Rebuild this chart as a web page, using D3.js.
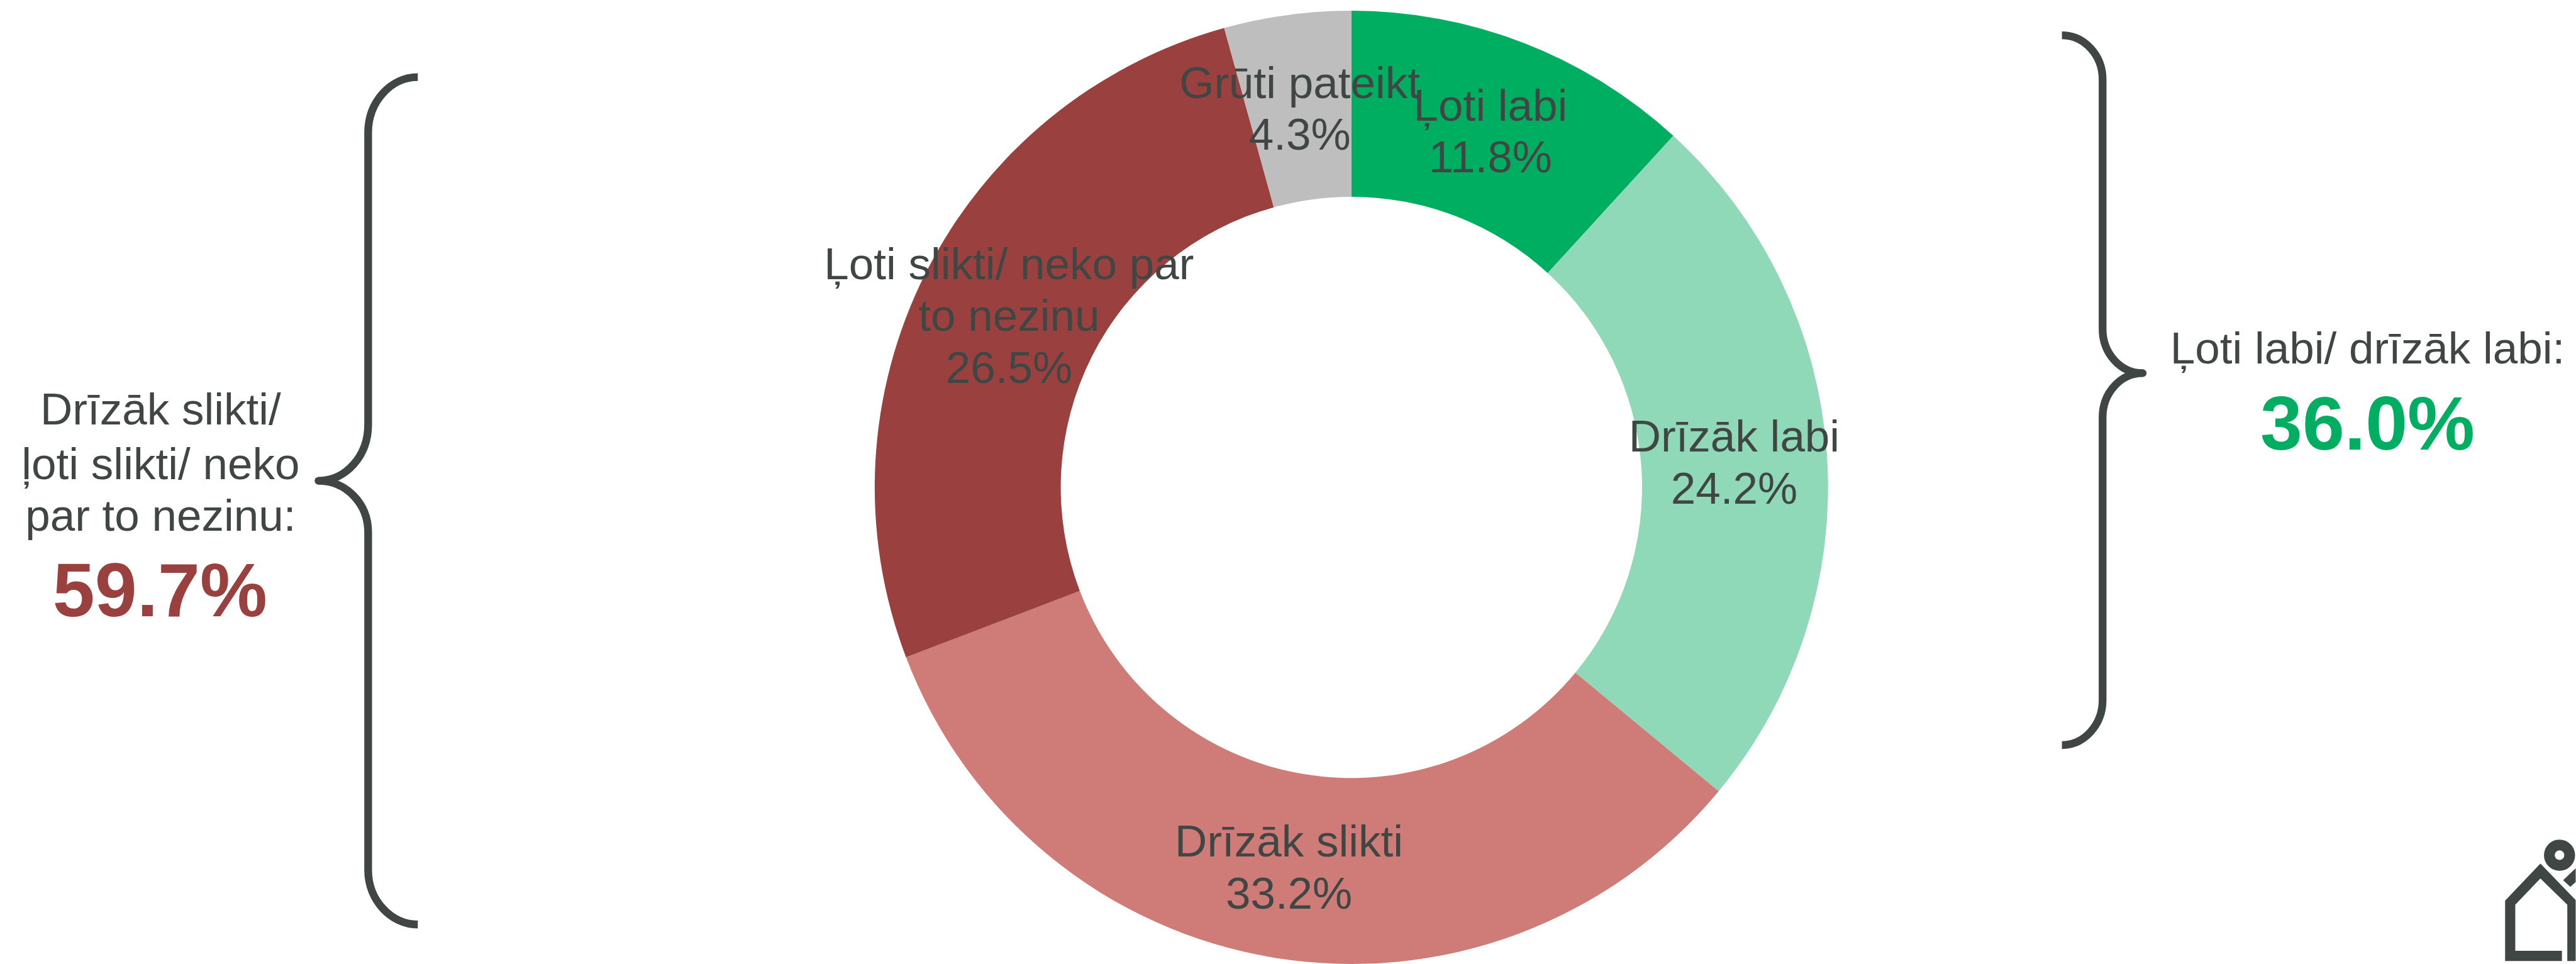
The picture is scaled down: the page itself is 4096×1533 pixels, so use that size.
<!DOCTYPE html>
<html>
<head>
<meta charset="utf-8">
<script src="https://cdn.jsdelivr.net/npm/d3@7"></script>
<style>
    html, body { margin: 0; padding: 0; background: #fff; overflow: hidden; }
    text { font-family: "Liberation Sans", Arial, sans-serif; }
</style>
</head>
<body>
<div id="app"></div>
<script>
// slices, clockwise from 12 o'clock
const categories = [
    ["Ļoti labi"],
    ["Drīzāk labi"],
    ["Drīzāk slikti"],
    ["Ļoti slikti/ neko par", "to nezinu"],
    ["Grūti pateikt"]
];
const values = [11.8, 24.2, 33.2, 26.5, 4.3];
const colors = ["#00AE61", "#90D9B8", "#CF7B77", "#9A4140", "#BEBEBE"];

const badLines = ["Drīzāk slikti/", "ļoti slikti/ neko", "par to nezinu:"];
const badTotal = "59.7%";
const goodLines = ["Ļoti labi/ drīzāk labi:"];
const goodTotal = "36.0%";

const textColor = "#404644";

// everything below is in reference pixels, the viewBox shrinks it to the window
let width = 4306;
let height = 1612;
let cx = 2259;
let cy = 815;
let outer = 797;
let inner = 486;
let fontSize = 74.7;
let lineHeight = 86.5;

let svg = d3.select("#app")
    .append("svg")
        .attr("width", 4096)
        .attr("height", 1533)
        .attr("viewBox", "0 0 " + width + " " + height)
        .style("display", "block");

let pie = d3.pie().sort(null).value(d => d.value);
let arc = d3.arc().innerRadius(inner).outerRadius(outer);

let slices = pie(values.map((v, i) => ({
    value: v,
    lines: categories[i],
    color: colors[i]
})));

let donut = svg.append("g")
    .attr("class", "donut")
    .attr("transform", "translate(" + cx + "," + cy + ")");

donut.selectAll("path")
    .data(slices)
    .enter().append("path")
        .attr("d", arc)
        .attr("fill", d => d.data.color);

// labels sit on the ring centroid, name lines then the percent
let labels = donut.selectAll("g.label")
    .data(slices)
    .enter().append("g")
        .attr("class", "label")
        .attr("transform", d => "translate(" + arc.centroid(d) + ")");

labels.each(function(d) {
    let lines = d.data.lines.concat([d3.format(".1f")(d.data.value) + "%"]);
    let top = -(lines.length - 1) / 2 * lineHeight + 28;
    d3.select(this).selectAll("text")
        .data(lines)
        .enter().append("text")
            .attr("y", (l, i) => top + i * lineHeight)
            .attr("text-anchor", "middle")
            .attr("font-size", fontSize)
            .attr("fill", textColor)
            .text(l => l);
});

// butt ends on the arms, only the tip is round
function drawBrace(d, tipX, tipY) {
    svg.append("path")
        .attr("d", d)
        .attr("fill", "none")
        .attr("stroke", textColor)
        .attr("stroke-width", 13);
    svg.append("circle")
        .attr("cx", tipX)
        .attr("cy", tipY)
        .attr("r", 6.5)
        .attr("fill", textColor);
}

// left brace, tip points at the text
drawBrace("M698,129 C653,129 615,170 615,222 L615,710 C615,762 578,804 532,804"
        + " C578,804 615,842 615,890 L615,1455 C615,1505 653,1546 698,1546", 532, 804);
// right brace
drawBrace("M3447,59 C3484,59 3515,92 3515,133 L3515,550 C3515,591 3545,624 3582,624"
        + " C3545,624 3515,657 3515,698 L3515,1171 C3515,1212 3484,1246 3447,1246", 3582, 624);

function drawLines(lines, x, ys) {
    lines.forEach((l, i) => {
        svg.append("text")
            .attr("x", x)
            .attr("y", ys[i])
            .attr("text-anchor", "middle")
            .attr("font-size", fontSize)
            .attr("fill", textColor)
            .text(l);
    });
}

function drawTotal(t, x, y, color) {
    svg.append("text")
        .attr("x", x)
        .attr("y", y)
        .attr("text-anchor", "middle")
        .attr("font-size", 126.5)
        .attr("font-weight", "bold")
        .attr("fill", color)
        .text(t);
}

drawLines(badLines, 268, [710, 801, 888]);
drawTotal(badTotal, 267, 1030, colors[3]);
drawLines(goodLines, 3958, [608]);
drawTotal(goodTotal, 3958, 752, colors[0]);

// logo, cut by the right edge like in the original
let logo = svg.append("g").attr("class", "logo").attr("fill", "#404644");
logo.append("path")
    .attr("d", "M4188,1607 L4188,1506 L4247,1444 L4306,1505 L4306,1607 L4292,1607 L4292,1513"
             + " L4247,1469 L4205,1513 L4205,1590 L4283,1590 L4283,1607 Z");
logo.append("path")
    .attr("d", "M4285,1472 L4297,1483 L4306,1475 L4306,1452 Z");
logo.append("circle")
    .attr("cx", 4279)
    .attr("cy", 1430)
    .attr("r", 17)
    .attr("fill", "none")
    .attr("stroke", "#404644")
    .attr("stroke-width", 18);
</script>
</body>
</html>
